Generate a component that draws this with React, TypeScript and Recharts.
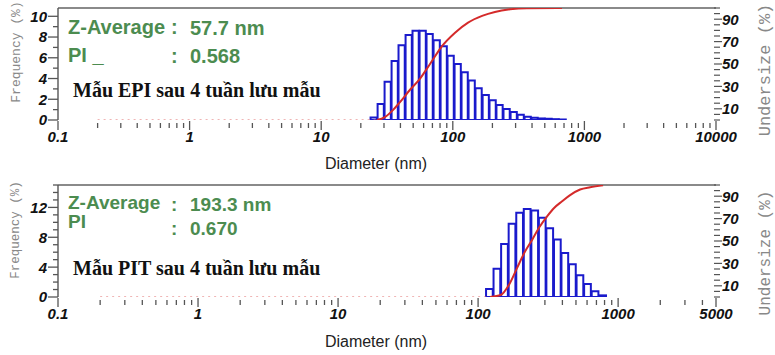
import React from 'react';
import { ComposedChart, Bar, Line, XAxis, YAxis, ReferenceLine, Customized } from 'recharts';

// ---------- Data: EPI sample (top panel) ----------
const epiSize = [25.2, 28.5, 32.2, 36.4, 41.1, 46.5, 52.5, 59.4, 67.1, 75.9, 85.8, 96.9, 109.6, 123.8, 140, 158, 179, 202, 228, 258, 292, 330, 373, 421, 476, 538, 608, 688];
const epiFreq = [0.25, 1.55, 3.7, 5.7, 7.2, 8.2, 8.6, 8.6, 8.3, 7.7, 7.1, 6.2, 5.4, 4.6, 3.8, 3.05, 2.4, 1.9, 1.45, 1.05, 0.77, 0.5, 0.32, 0.22, 0.15, 0.12, 0.08, 0.05];
const epiCumSize = [26.5, 30.5, 35.2, 39.7, 47.3, 56.4, 67.1, 82.8, 104, 130.6, 167, 209, 272, 366, 676];
const epiCum = [0, 2.5, 9, 16, 27, 37, 50, 66, 78, 87, 93, 96.5, 98.8, 99.8, 100];
const epiZeroSize = [0.2, 26.5];

// ---------- Data: PIT sample (bottom panel) ----------
const pitSize = [121.2, 137.1, 155.3, 175.8, 199.2, 225.4, 255.3, 289, 326.8, 370.4, 418.8, 474.3, 537, 608, 688.5, 780];
const pitFreq = [1.07, 3.8, 7.1, 9.8, 11.3, 11.8, 11.6, 10.6, 9.2, 7.7, 5.9, 4.4, 2.9, 1.74, 0.76, 0.22];
const pitCumSize = [121.8, 145.9, 166.4, 190, 213, 243, 273, 311, 349, 398, 454, 535, 631, 781];
const pitCum = [0, 2, 11, 26, 39, 51, 62, 72, 79.5, 85.5, 91, 96, 98, 99.7];
const pitZeroSize = [0.2, 121.8];

// ---------- Tick labels ----------
const xMajorTop = [0.1, 1, 10, 100, 1000, 10000];
const xMajorBottom = [0.1, 1, 10, 100, 1000, 5000];
const xDecades = [0.1, 1, 10, 100, 1000];
const xMinorSteps = [2, 3, 4, 5, 6, 7, 8, 9];
const yLeftTopTicks = [0, 1, 2, 3, 4, 5, 6, 7, 8, 9, 10];
const yLeftTopLabels = [0, 2, 4, 6, 8, 10];
const yLeftBottomTicks = [0, 1, 2, 3, 4, 5, 6, 7, 8, 9, 10, 11, 12, 13, 14, 15];
const yLeftBottomLabels = [0, 4, 8, 12];
const yRightTicks = [0, 5, 10, 15, 20, 25, 30, 35, 40, 45, 50, 55, 60, 65, 70, 75, 80, 85, 90, 95, 100];
const yRightLabels = [10, 30, 50, 70, 90];

const SANS = "'Liberation Sans', Arial, sans-serif";
const SERIF = "'Liberation Serif', 'Times New Roman', serif";
const MONO = "'Liberation Mono', 'Courier New', monospace";
const GREEN = '#4c8c50';
const AXIS = '#555';

function buildXTicks(max: number, majors: number[]) {
  const minor: number[] = [];
  xDecades.forEach((d) => xMinorSteps.forEach((s) => { const v = d * s; if (v < max) minor.push(v); }));
  return [...majors, ...minor].sort((a, b) => a - b);
}

const isIn = (list: number[], v: number) => list.some((l) => Math.abs(l - v) <= Math.abs(l) * 1e-6);

const makeXTick = (majors: number[]) => (props: any) => {
  const { x, y, payload } = props;
  const v = payload.value;
  const major = isIn(majors, v);
  return (
    <g>
      <line x1={x} x2={x} y1={y + (major ? 1 : 3)} y2={y + (major ? 10 : 8)} stroke={AXIS} strokeWidth={1.3} />
      {major && (
        <text x={x} y={y + 22} textAnchor="middle" fontFamily={SANS} fontSize={15} fontWeight="bold" fontStyle="italic" fill="#111">
          {String(v)}
        </text>
      )}
    </g>
  );
};

const makeLeftTick = (labels: number[]) => (props: any) => {
  const { x, y, payload } = props;
  const v = payload.value;
  const major = isIn(labels, v);
  return (
    <g>
      <line x1={x - (major ? 10 : 5)} x2={x} y1={y} y2={y} stroke={AXIS} strokeWidth={1.3} />
      {major && (
        <text x={x - 11} y={y} dy="0.36em" textAnchor="end" fontFamily={SANS} fontSize={15} fontWeight="bold" fontStyle="italic" fill="#111">
          {String(v)}
        </text>
      )}
    </g>
  );
};

const makeRightTick = (labels: number[]) => (props: any) => {
  const { x, y, payload } = props;
  const v = payload.value;
  const major = isIn(labels, v);
  return (
    <g>
      <line x1={x - 2} x2={x + (major ? 6 : 4)} y1={y} y2={y} stroke={AXIS} strokeWidth={1.2} />
      {major && (
        <text x={x + 6} y={y} dy="0.36em" textAnchor="start" fontFamily={SANS} fontSize={15} fontWeight="bold" fontStyle="italic" fill="#111">
          {String(v)}
        </text>
      )}
    </g>
  );
};

type PanelProps = {
  height: number;
  sizes: number[];
  freq: number[];
  cumSize: number[];
  cum: number[];
  zeroSize: number[];
  xMax: number;
  xMajors: number[];
  yMax: number;
  yTicks: number[];
  yLabels: number[];
  barSize: number;
  zAvg: string;
  pi: string;
  piLabel: string;
  title: string;
  t: {
    zBase: number; zColon: number; zVal: number; piBase: number; piVal: number; zSize: number;
    titleBase: number; freqY: number; freqSize: number; underY: number; underSize: number; diaBase: number;
  };
};

function Panel(p: PanelProps) {
  const barData = p.sizes.map((s, i) => ({ size: s, freq: p.freq[i] }));
  const cumData = p.cumSize.map((s, i) => ({ size: s, value: p.cum[i] }));
  const zeroData = p.zeroSize.map((s) => ({ size: s, value: 0 }));
  const xTicks = buildXTicks(p.xMax, p.xMajors);
  const t = p.t;

  const Annotations = () => (
    <g>
      <text x={68} y={t.zBase} fontFamily={SANS} fontSize={t.zSize} fontWeight="bold" fill={GREEN}>Z-Average</text>
      <text x={171} y={t.zColon} fontFamily={SANS} fontSize={t.zSize} fontWeight="bold" fill={GREEN}>:</text>
      <text x={190} y={t.zVal} fontFamily={SANS} fontSize={t.zSize} fontWeight="bold" fill={GREEN}>{p.zAvg}</text>
      <text x={68} y={t.piBase} fontFamily={SANS} fontSize={t.zSize} fontWeight="bold" fill={GREEN}>{p.piLabel}</text>
      <text x={171} y={t.piVal} fontFamily={SANS} fontSize={t.zSize} fontWeight="bold" fill={GREEN}>:</text>
      <text x={190} y={t.piVal} fontFamily={SANS} fontSize={t.zSize} fontWeight="bold" fill={GREEN}>{p.pi}</text>
      <text x={73} y={t.titleBase} fontFamily={SERIF} fontSize={20} fontWeight="bold" fill="#111">{p.title}</text>
      <text x={15} y={t.freqY} transform={`rotate(-90 15 ${t.freqY})`} textAnchor="middle" dy="0.35em" fontFamily={MONO} fontSize={t.freqSize} fill="#888">Frequency (%)</text>
      <text x={764} y={t.underY} transform={`rotate(-90 764 ${t.underY})`} textAnchor="middle" dy="0.35em" fontFamily={MONO} fontSize={t.underSize} fill="#888">Undersize (%)</text>
      <text x={376} y={t.diaBase} textAnchor="middle" fontFamily={SANS} fontSize={16} fill="#222">Diameter (nm)</text>
    </g>
  );

  return (
    <ComposedChart width={775} height={p.height} data={barData} margin={{ top: 8, right: 0, bottom: 0, left: 0 }}>
      <XAxis
        dataKey="size"
        type="number"
        scale="log"
        domain={[0.1, p.xMax]}
        allowDataOverflow
        ticks={xTicks}
        interval={0}
        tickLine={false}
        axisLine={false}
        tickSize={0}
        tickMargin={0}
        height={p.height - 120}
        tick={makeXTick(p.xMajors)}
      />
      <XAxis
        xAxisId="bars"
        dataKey="size"
        type="number"
        scale="log"
        domain={[0.1, p.xMax]}
        allowDataOverflow
        ticks={[0.1, p.xMax]}
        hide
      />
      <YAxis
        yAxisId="left"
        orientation="left"
        type="number"
        domain={[0, p.yMax]}
        allowDataOverflow
        ticks={p.yTicks}
        interval={0}
        width={58}
        tickLine={false}
        tickSize={0}
        tickMargin={0}
        axisLine={{ stroke: AXIS, strokeWidth: 1.4 }}
        tick={makeLeftTick(p.yLabels)}
      />
      <YAxis
        yAxisId="right"
        orientation="right"
        type="number"
        domain={[0, 100]}
        allowDataOverflow
        ticks={yRightTicks}
        interval={0}
        width={59}
        tickLine={false}
        tickSize={0}
        tickMargin={0}
        axisLine={false}
        tick={makeRightTick(yRightLabels)}
      />
      <ReferenceLine yAxisId="left" y={p.yMax} stroke="#8a8a8a" strokeWidth={2} ifOverflow="visible" />
      <Bar xAxisId="bars" yAxisId="left" dataKey="freq" barSize={p.barSize} fill="#ffffff" stroke="#1a1acc" strokeWidth={2} isAnimationActive={false} />
      <Line yAxisId="right" data={zeroData} dataKey="value" stroke="#e06a6a" strokeWidth={1} strokeDasharray="2 4" dot={false} activeDot={false} isAnimationActive={false} />
      <Line yAxisId="right" data={cumData} dataKey="value" type="monotone" stroke="#d42a2a" strokeWidth={2} dot={false} activeDot={false} isAnimationActive={false} />
      <Customized component={Annotations} />
    </ComposedChart>
  );
}

export default function App() {
  return (
    <div style={{ position: 'absolute', left: 0, top: 0, width: 775, height: 355, background: '#ffffff' }}>
      <div style={{ position: 'absolute', left: 0, top: 0 }}>
        <Panel
          height={177}
          sizes={epiSize}
          freq={epiFreq}
          cumSize={epiCumSize}
          cum={epiCum}
          zeroSize={epiZeroSize}
          xMax={10000}
          xMajors={xMajorTop}
          yMax={10.8}
          yTicks={yLeftTopTicks}
          yLabels={yLeftTopLabels}
          barSize={7}
          zAvg="57.7 nm"
          pi="0.568"
          piLabel="PI _"
          title="Mẫu EPI sau 4 tuần lưu mẫu"
          t={{ zBase: 34, zColon: 34, zVal: 35, piBase: 62, piVal: 63, zSize: 20, titleBase: 97, freqY: 52, freqSize: 13, underY: 70, underSize: 17, diaBase: 169 }}
        />
      </div>
      <div style={{ position: 'absolute', left: 0, top: 177 }}>
        <Panel
          height={178}
          sizes={pitSize}
          freq={pitFreq}
          cumSize={pitCumSize}
          cum={pitCum}
          zeroSize={pitZeroSize}
          xMax={5000}
          xMajors={xMajorBottom}
          yMax={15}
          yTicks={yLeftBottomTicks}
          yLabels={yLeftBottomLabels}
          barSize={7.5}
          zAvg="193.3 nm"
          pi="0.670"
          piLabel="PI"
          title="Mẫu PIT sau 4 tuần lưu mẫu"
          t={{ zBase: 32, zColon: 34, zVal: 34, piBase: 51, piVal: 58, zSize: 19, titleBase: 98, freqY: 53, freqSize: 12.5, underY: 76, underSize: 16, diaBase: 170 }}
        />
      </div>
    </div>
  );
}
